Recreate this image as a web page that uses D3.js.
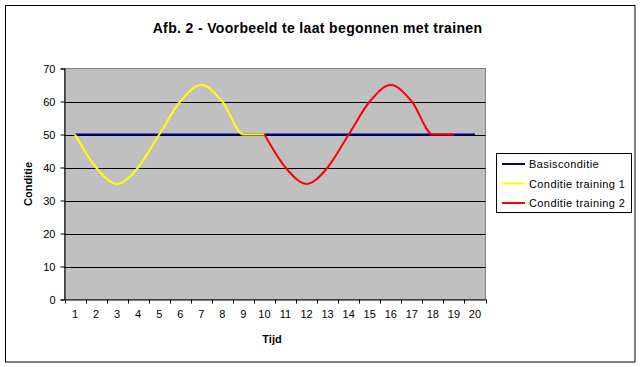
<!DOCTYPE html>
<html><head><meta charset="utf-8">
<script src="https://cdn.jsdelivr.net/npm/d3@7"></script>
<style>body{margin:0;background:#fff}svg{display:block}text{font-family:Arial,"Liberation Sans",sans-serif}</style>
</head><body>
<svg id="c" width="641" height="367"></svg>
<script>
const categories = [1,2,3,4,5,6,7,8,9,10,11,12,13,14,15,16,17,18,19,20];
const basisconditie = [50,50,50,50,50,50,50,50,50,50,50,50,50,50,50,50,50,50,50,50];
const training1 = [50,40,35,40,50,60,65,60,50,50,null,null,null,null,null,null,null,null,null,null];
const training2 = [null,null,null,null,null,null,null,null,null,50,40,35,40,50,60,65,60,50,50,null];
const yTicks = [0,10,20,30,40,50,60,70];
const seriesNames = ["Basisconditie","Conditie training 1","Conditie training 2"];
const seriesColors = ["#000080","#FFFF00","#FF0000"];

const svg = d3.select("#c");
svg.append("rect").attr("x",5.5).attr("y",5.5).attr("width",629.5).attr("height",356.5)
  .attr("fill","#fff").attr("stroke","#000").attr("stroke-width",1);

const L=64.5, R=485.5, T=68.5, B=299.5;
const x = d3.scaleBand().domain(categories).range([L,R]);
const y = d3.scaleLinear().domain([0,70]).range([B,T]);

svg.append("rect").attr("x",L).attr("y",T).attr("width",R-L).attr("height",B-T)
  .attr("fill","#C0C0C0").attr("stroke","#808080").attr("stroke-width",1);

// gridlines
svg.append("g").selectAll("line").data(yTicks.filter(v=>v>0&&v<70)).join("line")
  .attr("x1",L).attr("x2",R).attr("y1",d=>Math.round(y(d))+0.5).attr("y2",d=>Math.round(y(d))+0.5)
  .attr("stroke","#000").attr("stroke-width",1);

// y axis
const ya = svg.append("g").attr("transform",`translate(${L},0)`)
  .call(d3.axisLeft(y).tickValues(yTicks).tickSize(4).tickPadding(5).tickFormat(d3.format("d")));
ya.select(".domain").attr("stroke","#000");
ya.selectAll(".tick line").attr("stroke","#000");
ya.selectAll("text").attr("font-size","11px").attr("fill","#000").attr("font-family","Arial, 'Liberation Sans', sans-serif");

// x axis
const xa = svg.append("g").attr("transform",`translate(0,${B})`)
  .call(d3.axisBottom(x).tickSize(0).tickPadding(11));
xa.select(".domain").attr("stroke","#000");
xa.selectAll("text").attr("font-size","11px").attr("fill","#000").attr("font-family","Arial, 'Liberation Sans', sans-serif");
// boundary ticks
const bounds = categories.map(c=>x(c)).concat([x(categories[categories.length-1])+x.bandwidth()]);
svg.append("g").selectAll("line").data(bounds).join("line")
  .attr("x1",d=>Math.round(d)+0.5).attr("x2",d=>Math.round(d)+0.5).attr("y1",B).attr("y2",B+4)
  .attr("stroke","#000");

// lines
const line = d3.line().defined(d=>d.v!=null)
  .x(d=>x(d.c)+x.bandwidth()/2).y(d=>y(d.v)).curve(d3.curveMonotoneX);
[basisconditie,training1,training2].forEach((s,i)=>{
  svg.append("path").datum(categories.map((c,j)=>({c,v:s[j]})))
    .attr("d",line).attr("fill","none").attr("stroke",seriesColors[i]).attr("stroke-width",2)
    .attr("stroke-linejoin","round");
});

// titles
svg.append("text").attr("x",317.5).attr("y",32.5).attr("text-anchor","middle")
  .attr("font-size","14px").attr("font-weight","bold").attr("letter-spacing","0.35px")
  .text("Afb. 2 - Voorbeeld te laat begonnen met trainen");
svg.append("text").attr("x",272).attr("y",343).attr("text-anchor","middle")
  .attr("font-size","11px").attr("font-weight","bold").text("Tijd");
svg.append("text").attr("transform","translate(32,184) rotate(-90)").attr("text-anchor","middle")
  .attr("font-size","11px").attr("font-weight","bold").text("Conditie");

// legend
const lg = svg.append("g");
lg.append("rect").attr("x",496.5).attr("y",153.5).attr("width",135).attr("height",59)
  .attr("fill","#fff").attr("stroke","#000");
seriesNames.forEach((n,i)=>{
  const cy = 164 + i*19.5;
  lg.append("line").attr("x1",502).attr("x2",525).attr("y1",cy).attr("y2",cy)
    .attr("stroke",seriesColors[i]).attr("stroke-width",2);
  lg.append("text").attr("x",529).attr("y",cy+4).attr("font-size","11px")
    .attr("letter-spacing","0.4px").text(n);
});
</script>
</body></html>
